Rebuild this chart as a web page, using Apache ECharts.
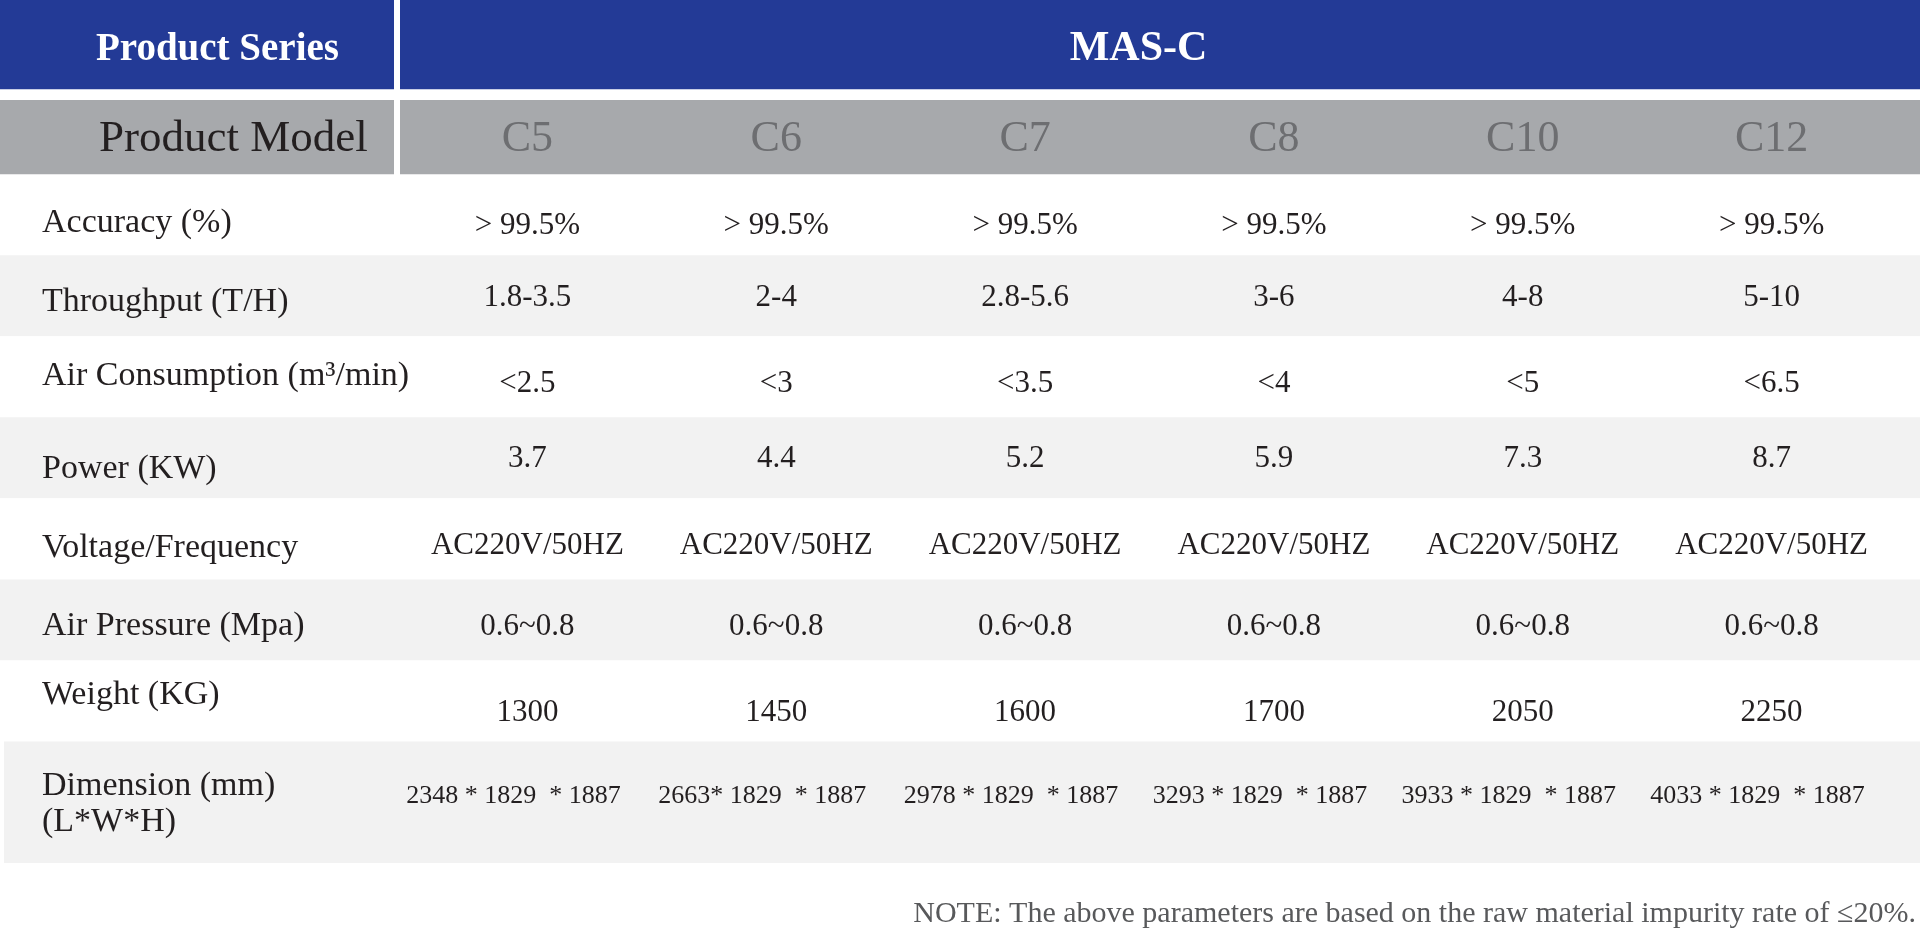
<!DOCTYPE html>
<html><head><meta charset="utf-8">
<script src="https://cdn.jsdelivr.net/npm/echarts@6/dist/echarts.min.js"></script>
<style>html,body{margin:0;padding:0;background:#fff;}#main{width:1920px;height:933px;}</style>
</head><body><div id="main"></div>
<script>
// ---------- data ----------
const headerSeries = 'Product Series';
const seriesName = 'MAS-C';
const headerModel = 'Product Model';
const models = ['C5', 'C6', 'C7', 'C8', 'C10', 'C12'];
const rowLabels = ['Accuracy (%)', 'Throughput (T/H)', 'Air Consumption (m\u00b3/min)', 'Power (KW)',
  'Voltage/Frequency', 'Air Pressure (Mpa)', 'Weight (KG)', 'Dimension (mm)\n(L*W*H)'];
const accuracy = ['> 99.5%', '> 99.5%', '> 99.5%', '> 99.5%', '> 99.5%', '> 99.5%'];
const throughput = ['1.8-3.5', '2-4', '2.8-5.6', '3-6', '4-8', '5-10'];
const airConsumption = ['<2.5', '<3', '<3.5', '<4', '<5', '<6.5'];
const power = ['3.7', '4.4', '5.2', '5.9', '7.3', '8.7'];
const voltage = ['AC220V/50HZ', 'AC220V/50HZ', 'AC220V/50HZ', 'AC220V/50HZ', 'AC220V/50HZ', 'AC220V/50HZ'];
const airPressure = ['0.6~0.8', '0.6~0.8', '0.6~0.8', '0.6~0.8', '0.6~0.8', '0.6~0.8'];
const weight = ['1300', '1450', '1600', '1700', '2050', '2250'];
const dimension = ['2348 * 1829  * 1887', '2663* 1829  * 1887', '2978 * 1829  * 1887',
  '3293 * 1829  * 1887', '3933 * 1829  * 1887', '4033 * 1829  * 1887'];
const note = 'NOTE: The above parameters are based on the raw material impurity rate of \u226420%.';

// ---------- layout (not data) ----------
const rowSpans = [1, 1, 1, 1, 1, 1, 1, 1.5];
const rowShade = [false, true, false, true, false, true, false, true];
const labelDy = [8, 6, -1, 11, 9, 6, -6, 2];
const valueDy = [11, 2, 7, 1, 7, 7, 12, -6];
const valueDx = [0, 0, 0, 0, 0, 0, 0, -14];
const blueBand = [-2.15, -1.05];
const grayBand = [-0.915, 0];
const FONT = '"Liberation Serif", "Times New Roman", serif';
const LABEL_LEFT = 42;
const HEAD_LEFT = 96;

const rows = [accuracy, throughput, airConsumption, power, voltage, airPressure, weight, dimension];
const rowStart = [];
let acc = 0;
rowSpans.forEach(s => { rowStart.push(acc); acc += s; });

const cellTexts = [];
const cellData = [];
rows.forEach((vals, r) => vals.forEach((v, c) => {
  cellData.push([c, rowStart[r] + rowSpans[r] / 2, r]);
  cellTexts.push(v);
}));

function txt(x, y, text, size, color, align, weight, lineHeight) {
  return {
    type: 'text', x: x, y: y,
    style: {
      text: text, fill: color,
      font: (weight || 'normal') + ' ' + size + 'px ' + FONT,
      fontSize: size, fontFamily: FONT, fontWeight: weight || 'normal',
      lineHeight: lineHeight || size * 1.2,
      align: align, textAlign: align,
      verticalAlign: 'middle', textVerticalAlign: 'middle'
    }
  };
}

const chart = echarts.init(document.getElementById('main'), null, { renderer: 'canvas' });
chart.setOption({
  animation: false,
  backgroundColor: '#ffffff',
  title: {
    text: note, right: 4, top: 899, padding: 0,
    textStyle: { fontFamily: FONT, fontSize: 30, fontWeight: 'normal', color: '#58595b' }
  },
  grid: { left: 403, right: 24, top: 0, bottom: 70 },
  xAxis: { type: 'category', data: models, show: false, boundaryGap: true },
  yAxis: { type: 'value', min: blueBand[0], max: acc, inverse: true, show: false },
  series: [
    {
      // row backgrounds + row labels
      type: 'custom', z: 1,
      data: rowLabels.map((l, r) => [0, rowStart[r], r]),
      renderItem: function (params, api) {
        const r = api.value(2);
        const y0 = api.coord([0, rowStart[r]])[1];
        const y1 = api.coord([0, rowStart[r] + rowSpans[r]])[1];
        const x0 = r === rows.length - 1 ? 4 : 0;
        return {
          type: 'group', children: [
            { type: 'rect', shape: { x: x0, y: y0, width: api.getWidth() - x0, height: y1 - y0 },
              style: { fill: rowShade[r] ? '#f2f2f2' : '#ffffff' } },
            txt(LABEL_LEFT, (y0 + y1) / 2 + labelDy[r], rowLabels[r], 34, '#231f20', 'left', 'normal', 36)
          ]
        };
      }
    },
    {
      // header bands
      type: 'custom', z: 2,
      data: [[0, blueBand[0]]],
      renderItem: function (params, api) {
        const cs = params.coordSys;
        const W = api.getWidth();
        const b0 = api.coord([0, blueBand[0]])[1], b1 = api.coord([0, blueBand[1]])[1];
        const g0 = api.coord([0, grayBand[0]])[1], g1 = api.coord([0, grayBand[1]])[1];
        const split0 = cs.x - 9, split1 = cs.x - 3;
        return {
          type: 'group', children: [
            { type: 'rect', shape: { x: 0, y: b0, width: split0, height: b1 - b0 }, style: { fill: '#233a96' } },
            { type: 'rect', shape: { x: split1, y: b0, width: W - split1, height: b1 - b0 }, style: { fill: '#233a96' } },
            { type: 'rect', shape: { x: 0, y: g0, width: split0, height: g1 - g0 }, style: { fill: '#a7a9ac' } },
            { type: 'rect', shape: { x: split1, y: g0, width: W - split1, height: g1 - g0 }, style: { fill: '#a7a9ac' } },
            txt(HEAD_LEFT, (b0 + b1) / 2 + 5, headerSeries, 39, '#ffffff', 'left', 'bold'),
            txt(cs.x + cs.width / 2 - 11, (b0 + b1) / 2 + 5, seriesName, 42, '#ffffff', 'center', 'bold'),
            txt(HEAD_LEFT + 3, (g0 + g1) / 2 + 2, headerModel, 45, '#231f20', 'left', 'normal')
          ]
        };
      }
    },
    {
      // model names in header
      type: 'custom', z: 3,
      data: models.map((m, c) => [c, (grayBand[0] + grayBand[1]) / 2]),
      renderItem: function (params, api) {
        const p = api.coord([api.value(0), api.value(1)]);
        return txt(p[0], p[1] + 2, models[params.dataIndex], 44, '#6d6e71', 'center', 'normal');
      }
    },
    {
      // cell values
      type: 'custom', z: 3,
      data: cellData,
      renderItem: function (params, api) {
        const r = api.value(2);
        const p = api.coord([api.value(0), api.value(1)]);
        const size = r === rows.length - 1 ? 26 : 31;
        return txt(p[0] + valueDx[r], p[1] + valueDy[r], cellTexts[params.dataIndex], size, '#231f20', 'center', 'normal');
      }
    }
  ]
});
</script>
</body></html>
